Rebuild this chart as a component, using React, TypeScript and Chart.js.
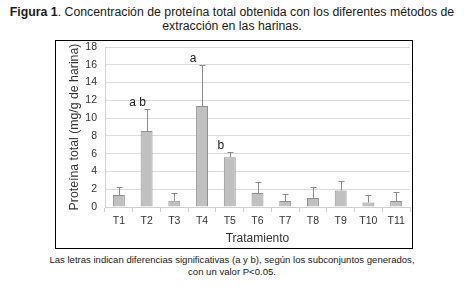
import React, { useEffect, useRef } from "react";
import { Chart, registerables } from "chart.js";

Chart.register(...registerables);

const categories = ["T1", "T2", "T3", "T4", "T5", "T6", "T7", "T8", "T9", "T10", "T11"];
const proteinMeans = [1.35, 8.55, 0.7, 11.35, 5.6, 1.57, 0.67, 1.0, 1.85, 0.5, 0.67];
const errorUpper = [2.2, 11.0, 1.55, 16.0, 6.15, 2.8, 1.45, 2.2, 2.9, 1.3, 1.67];
const groupLetters = ["", "a b", "", "a", "b", "", "", "", "", "", ""];
const yMin = 0;
const yMax = 18;
const yStep = 2;

const FONT = "'Liberation Sans', Arial, sans-serif";

const errorBarPlugin = {
  id: "errorBars",
  afterDatasetsDraw(chart: any) {
    const { ctx, scales } = chart;
    const meta = chart.getDatasetMeta(0);
    const y = scales.y;
    ctx.save();
    meta.data.forEach((bar: any, i: number) => {
      const x = Math.round(bar.x) + 0.5;
      const yTop = Math.round(y.getPixelForValue(errorUpper[i])) + 0.5;
      const yBar = bar.y;
      ctx.strokeStyle = "#8c8c8c";
      ctx.lineWidth = 1;
      ctx.beginPath();
      ctx.moveTo(x, yBar);
      ctx.lineTo(x, yTop);
      ctx.moveTo(x - 3, yTop);
      ctx.lineTo(x + 3, yTop);
      ctx.stroke();
      const label = groupLetters[i];
      if (label) {
        ctx.fillStyle = "#1a1a1a";
        ctx.font = `12px ${FONT}`;
        ctx.textAlign = "center";
        ctx.textBaseline = "alphabetic";
        ctx.fillText(label, bar.x - 9, yTop - 3.5);
      }
    });
    ctx.restore();
  },
};

export default function App() {
  const canvasRef = useRef<HTMLCanvasElement | null>(null);

  useEffect(() => {
    if (!canvasRef.current) return;
    const chart = new Chart(canvasRef.current, {
      type: "bar",
      data: {
        labels: categories,
        datasets: [
          {
            data: proteinMeans,
            backgroundColor: "#c0c0c0",
            borderColor: "#8f8f8f",
            borderWidth: 1,
            barPercentage: 0.43,
            categoryPercentage: 1,
          },
        ],
      },
      options: {
        responsive: false,
        animation: false,
        layout: { padding: { top: 0, right: 2, left: 0, bottom: 0 } },
        plugins: {
          legend: { display: false },
          tooltip: { enabled: false },
        },
        scales: {
          x: {
            offset: true,
            grid: {
              display: true,
              offset: true,
              drawOnChartArea: false,
              drawTicks: true,
              tickLength: 5,
              color: "#d0d0d0",
            },
            border: { display: true, color: "#d0d0d0" },
            ticks: {
              color: "#333333",
              font: { family: FONT, size: 10.5 },
              padding: 3,
              maxRotation: 0,
              autoSkip: false,
            },
            title: {
              display: true,
              text: "Tratamiento",
              color: "#333333",
              font: { family: FONT, size: 12 },
              padding: { top: 0, bottom: 2 },
            },
            afterFit(scale: any) {
              scale.height = 41;
            },
          },
          y: {
            min: yMin,
            max: yMax,
            grid: {
              color: "#dcdcdc",
              drawTicks: false,
            },
            border: { display: true, color: "#d0d0d0" },
            ticks: {
              stepSize: yStep,
              color: "#333333",
              font: { family: FONT, size: 10.5 },
              padding: 8,
            },
            title: {
              display: true,
              text: "Proteína total (mg/g de harina)",
              color: "#333333",
              font: { family: FONT, size: 12.3 },
              padding: { top: 11, bottom: 0 },
            },
            afterFit(scale: any) {
              scale.width = 49;
              scale.paddingTop = 6;
              scale.paddingBottom = 0;
            },
          },
        },
      },
      plugins: [errorBarPlugin],
    } as any);
    return () => chart.destroy();
  }, []);

  const textBase: React.CSSProperties = {
    position: "absolute",
    left: 0,
    width: 464,
    textAlign: "center",
    fontFamily: FONT,
    whiteSpace: "nowrap",
    color: "#1a1a1a",
  };

  return (
    <div
      style={{
        position: "fixed",
        left: 0,
        top: 0,
        width: 475,
        height: 297,
        background: "#ffffff",
        overflow: "hidden",
      }}
    >
      <div style={{ ...textBase, top: 6, fontSize: 12.3, lineHeight: "13.5px" }}>
        <b>Figura 1</b>. Concentración de proteína total obtenida con los diferentes métodos de
        <br />
        extracción en las harinas.
      </div>
      <div
        style={{
          position: "absolute",
          left: 55,
          top: 40,
          width: 356,
          height: 207,
          border: "1px solid #000000",
        }}
      >
        <canvas ref={canvasRef} width={356} height={207} style={{ display: "block" }} />
      </div>
      <div style={{ ...textBase, top: 254, fontSize: 9.55, lineHeight: "12.3px" }}>
        Las letras indican diferencias significativas (a y b), según los subconjuntos generados,
        <br />
        con un valor P&lt;0.05.
      </div>
    </div>
  );
}
